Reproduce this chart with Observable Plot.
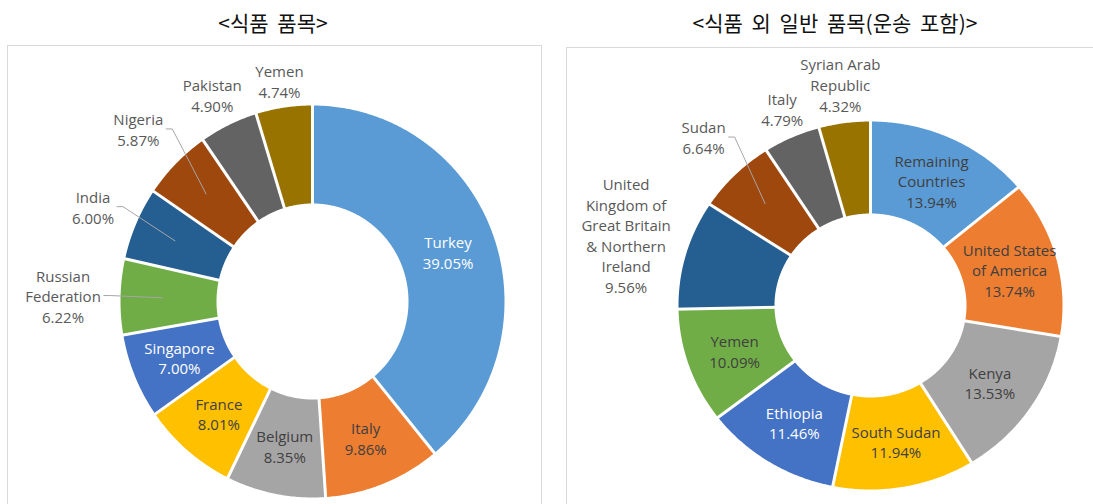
<!DOCTYPE html>
<html>
<head>
<meta charset="utf-8">
<script src="https://cdn.jsdelivr.net/npm/d3@7"></script>
<script src="https://cdn.jsdelivr.net/npm/@observablehq/plot@0.6"></script>
<style>
  html, body { margin: 0; padding: 0; background: #fff; }
  body { width: 1093px; height: 504px; overflow: hidden; position: relative; }
  .title { position: absolute; top: 7px; line-height: 30px; font-family: "Noto Sans CJK KR", sans-serif;
           font-size: 21px; color: #111; white-space: pre; transform: translateX(-50%); word-spacing: 4px; }
  .panel { position: absolute; border: 1px solid #d9d9d9; background: #fff; overflow: hidden; }
  .panel svg { display: block; }
</style>
</head>
<body>
<div class="title" id="title0" style="left:273px"></div>
<div class="title" id="title1" style="left:835px"></div>
<div class="panel" id="panel0" style="left:7px; top:45px; width:533px; height:470px"></div>
<div class="panel" id="panel1" style="left:566px; top:47px; width:540px; height:470px"></div>
<script>
// ---------------- data ----------------
const chartTitles = ["<식품 품목>", "<식품 외 일반 품목(운송 포함)>"];

const foodCountries = ["Turkey", "Italy", "Belgium", "France", "Singapore",
  "Russian\nFederation", "India", "Nigeria", "Pakistan", "Yemen"];
const foodShares = [39.05, 9.86, 8.35, 8.01, 7.00, 6.22, 6.00, 5.87, 4.90, 4.74];

const generalCountries = ["Remaining\nCountries", "United States\nof America", "Kenya", "South Sudan",
  "Ethiopia", "Yemen", "United\nKingdom of\nGreat Britain\n& Northern\nIreland", "Sudan", "Italy",
  "Syrian Arab\nRepublic"];
const generalShares = [13.94, 13.74, 13.53, 11.94, 11.46, 10.09, 9.56, 6.64, 4.79, 4.32];

// ---------------- style ----------------
const palette = ["#5B9BD5", "#ED7D31", "#A5A5A5", "#FFC000", "#4472C4",
  "#70AD47", "#255E91", "#9E480E", "#636363", "#997300"];

const panelStyles = [
  { width: 533, height: 458, cx: 304, cy: 255, rx: 192, ry: 196,
    outside: ["Russian Federation", "India", "Nigeria", "Pakistan", "Yemen"],
    leaders: ["Russian Federation", "India", "Nigeria"],
    light: ["Turkey", "Singapore"] },
  { width: 540, height: 456, cx: 303, cy: 257, rx: 192, ry: 184,
    outside: ["United Kingdom of Great Britain & Northern Ireland", "Sudan", "Italy", "Syrian Arab Republic"],
    leaders: ["Sudan"],
    light: ["Ethiopia"] }
];

const FONT = "Open Sans";
const FS = 15;
const LH = 1.37;
const INNER = 0.5;
const GAP_PLAIN = 3;
const GAP_LEADER = 19;

const canvas = document.createElement("canvas");
const ctx = canvas.getContext("2d");
ctx.font = `${FS}px "${FONT}"`;

function donut(names, shares, st) {
  const total = d3.sum(shares);
  let acc = 0;
  const slices = names.map((n, i) => {
    const a0 = acc / total * 2 * Math.PI;
    acc += shares[i];
    const a1 = acc / total * 2 * Math.PI;
    return { key: n.replace(/\n/g, " "), label: n + "\n" + shares[i].toFixed(2) + "%", a0, a1, mid: (a0 + a1) / 2 };
  });

  // polygon vertices of each ring segment, in unit-circle coordinates
  const poly = [];
  for (const s of slices) {
    const n = Math.ceil((s.a1 - s.a0) / 0.01) + 1;
    for (let k = 0; k <= n; k++) {
      const a = s.a0 + (s.a1 - s.a0) * k / n;
      poly.push({ key: s.key, x: Math.sin(a), y: -Math.cos(a) });
    }
    for (let k = n; k >= 0; k--) {
      const a = s.a0 + (s.a1 - s.a0) * k / n;
      poly.push({ key: s.key, x: INNER * Math.sin(a), y: -INNER * Math.cos(a) });
    }
  }

  // labels
  const labels = [];
  const leaderPts = [];
  for (const s of slices) {
    const dx = Math.sin(s.mid), dy = -Math.cos(s.mid);
    const lines = s.label.split("\n");
    const w = d3.max(lines, l => ctx.measureText(l).width);
    const h = lines.length * FS * LH;
    let x, y, type;
    if (st.outside.includes(s.key)) {
      const hasLeader = st.leaders.includes(s.key);
      const rdir = Math.hypot(st.rx * dx, st.ry * dy);
      const half = Math.abs(dx) * w / 2 + Math.abs(dy) * h / 2;
      const r = rdir + (hasLeader ? GAP_LEADER : GAP_PLAIN) + half;
      x = r * dx / st.rx; y = r * dy / st.ry; type = "out";
      if (hasLeader) {
        const sx = x + (w / 2 + 3) / st.rx;
        leaderPts.push({ key: s.key, x: sx, y });
        leaderPts.push({ key: s.key, x: sx + 6 / st.rx, y });
        leaderPts.push({ key: s.key, x: 0.78 * dx, y: 0.78 * dy });
      }
    } else {
      x = 0.75 * dx; y = 0.75 * dy;
      type = st.light.includes(s.key) ? "light" : "dark";
    }
    labels.push({ key: s.key, text: s.label, x, y, type });
  }

  const textOpts = { x: "x", y: "y", text: "text", fontSize: FS, fontFamily: FONT, lineHeight: LH, textAnchor: "middle" };

  return Plot.plot({
    width: st.width, height: st.height, margin: 0,
    style: { background: "transparent" },
    x: { domain: [-1, 1], range: [st.cx - st.rx, st.cx + st.rx], axis: null },
    y: { domain: [-1, 1], range: [st.cy - st.ry, st.cy + st.ry], axis: null },
    color: { domain: slices.map(s => s.key), range: palette },
    marks: [
      Plot.line(poly, { x: "x", y: "y", z: "key", fill: "key", stroke: "none", curve: "linear" }),
      Plot.link(slices, {
        x1: d => (INNER - 0.03) * Math.sin(d.a0), y1: d => -(INNER - 0.03) * Math.cos(d.a0),
        x2: d => 1.03 * Math.sin(d.a0), y2: d => -1.03 * Math.cos(d.a0),
        stroke: "#ffffff", strokeWidth: 3
      }),
      Plot.line(leaderPts, { x: "x", y: "y", z: "key", stroke: "#a6a6a6", strokeWidth: 1 }),
      Plot.text(labels.filter(d => d.type === "out"), { ...textOpts, fill: "#595959" }),
      Plot.text(labels.filter(d => d.type === "dark"), { ...textOpts, fill: "#404040" }),
      Plot.text(labels.filter(d => d.type === "light"), { ...textOpts, fill: "#ffffff" })
    ]
  });
}

document.getElementById("title0").textContent = chartTitles[0];
document.getElementById("title1").textContent = chartTitles[1];
document.getElementById("panel0").appendChild(donut(foodCountries, foodShares, panelStyles[0]));
document.getElementById("panel1").appendChild(donut(generalCountries, generalShares, panelStyles[1]));
</script>
</body>
</html>
